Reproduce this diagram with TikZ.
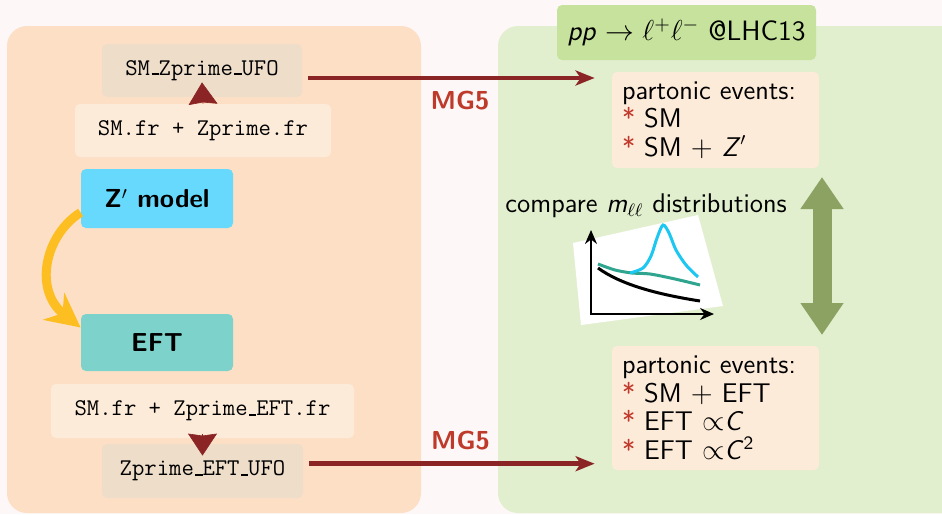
\documentclass[tikz,border=0pt]{standalone}
\usetikzlibrary{arrows.meta}
\definecolor{pagebg}{HTML}{FDF8F7}
\definecolor{leftpanel}{HTML}{FCDFC5}
\definecolor{rightpanel}{HTML}{E1EFCE}
\definecolor{titlebox}{HTML}{C6E29C}
\definecolor{ufobox}{HTML}{EDDDC9}
\definecolor{frbox}{HTML}{FDEBDA}
\definecolor{zbox}{HTML}{66D9FD}
\definecolor{eftbox}{HTML}{7DD3CB}
\definecolor{arrowred}{HTML}{8B2525}
\definecolor{mgred}{HTML}{BE3A2A}
\definecolor{starred}{HTML}{C0392B}
\definecolor{olive}{HTML}{8BA262}
\definecolor{yellowarr}{HTML}{FDBE22}
\definecolor{cyancurve}{HTML}{1CC7F2}
\definecolor{tealcurve}{HTML}{2FA58F}
\newcommand{\redstar}{\textcolor{starred}{*}~}
% short rule-style underscore for file names
\newcommand{\us}{\leavevmode\kern.06em\vbox{\hrule width.3em height 1pt}}
\begin{document}
\begin{tikzpicture}[x=0.5pt,y=-0.5pt,
  box/.style={rounded corners=2.5pt, inner sep=0pt, align=center},
  ttlabel/.style={font=\fontsize{12}{14}\selectfont\ttfamily},
  sflabel/.style={font=\fontsize{13.5}{14.3}\selectfont\sffamily},
  bflabel/.style={font=\fontsize{13}{14.3}\selectfont\sffamily\bfseries},
  evbox/.style={box, fill=frbox, minimum width=103.5pt, text width=93.5pt,
    align=left, sflabel},
  mgarrow/.style={arrowred, line width=2.4pt,
    -{Stealth[length=9.5pt,width=7.5pt,inset=2.5pt]}},
  tiparrow/.style={arrowred, line width=0.3pt,
    -{Stealth[length=11pt,width=14.5pt,inset=1pt]}},
  mglabel/.style={text=mgred, bflabel, inner sep=0pt},
  curve/.style={line width=1.5pt}
]
\clip (0,0) rectangle (942,514);
\fill[pagebg] (0,0) rectangle (942,514);

% panels
\fill[leftpanel, rounded corners=10pt] (7,26) rectangle (421,513);
\fill[rightpanel, rounded corners=10pt] (498,26) rectangle (990,513);

% model files
\node[box, fill=ufobox, minimum width=100pt, minimum height=26.5pt, ttlabel]
  (ufo1) at (202,70.5) {SM\us Zprime\us UFO};
\node[box, fill=frbox, minimum width=128pt, minimum height=26.5pt, ttlabel]
  (fr1) at (203,130.5) {SM.fr + Zprime.fr};
\node[box, fill=zbox, minimum width=76pt, minimum height=29.5pt, bflabel]
  (zmod) at (157,198.5) {Z$'$ model};
\node[box, fill=eftbox, minimum width=76pt, minimum height=28.5pt, bflabel]
  (eft) at (157,342.5) {EFT};
\node[box, fill=frbox, minimum width=151.5pt, minimum height=27pt, ttlabel]
  (fr2) at (202.5,411) {SM.fr + Zprime\us EFT.fr};
\node[box, fill=ufobox, minimum width=100.5pt, minimum height=27pt, ttlabel]
  (ufo2) at (202.5,471) {Zprime\us EFT\us UFO};

\draw[tiparrow] (fr1.north) -- ([yshift=7.5pt]ufo1.south);
\draw[tiparrow] ([yshift=2pt]fr2.south) -- ([yshift=-6pt]ufo2.north);

% model to EFT
\draw[yellowarr, line width=4.5pt,
  -{Stealth[length=17pt,width=17pt,inset=5.5pt]}]
  ([yshift=-7pt]zmod.west) .. controls (45,235) and (33,290)
  .. ([yshift=7.5pt]eft.west);

% right side
\node[box, fill=titlebox, minimum width=129.5pt, minimum height=27.5pt,
  font=\fontsize{14}{16}\selectfont\sffamily]
  (title) at (686.5,32.5) {\textit{pp} $\to \ell^+\ell^-$ @LHC13};
\node[evbox, minimum height=48pt] (pe1) at (715.5,120)
  {partonic events:\\ \redstar SM\\ \redstar SM $+$ \textit{Z}$'$};
\node[evbox, minimum height=62pt] (pe2) at (715.5,408)
  {partonic events:\\ \redstar SM $+$ EFT\\ \redstar EFT $\propto$\textit{C}\\
   \redstar EFT $\propto$\textit{C}\textsuperscript{2}};

% MadGraph arrows
\coordinate (a1s) at ([xshift=3pt,yshift=-3.75pt]ufo1.east);
\coordinate (a1e) at ([xshift=-8.5pt]pe1.west);
\draw[mgarrow] (a1s) -- (a1s -| a1e)
  node[mglabel, pos=0.53, yshift=-11.5pt] {MG5};
\coordinate (a2s) at ([xshift=3pt,yshift=3.65pt]ufo2.east);
\coordinate (a2e) at ([xshift=-8.5pt]pe2.west);
\draw[mgarrow] (a2s) -- (a2s -| a2e)
  node[mglabel, pos=0.53, yshift=11.5pt] {MG5};

% comparison
\coordinate (cmpa) at (822,177);
\coordinate (cmpb) at (822,335);
\draw[olive, line width=9.5pt,
  {Triangle[length=16pt,width=20.5pt]}-{Triangle[length=16pt,width=20.5pt]}]
  (cmpa) -- (cmpb);

\node[sflabel, anchor=base west, inner sep=0pt] (cmp) at (505,212)
  {compare \textit{m}$_{\ell\ell}$ distributions};

% sketch of the distributions
\fill[white] (573,243) -- (698,215) -- (723,306) -- (581,325) -- cycle;
\draw[curve, black] (598,268) .. controls (620,284) and (655,294) .. (700,301);
\draw[curve, tealcurve] plot[smooth] coordinates
  {(598,264) (615,270) (632,273) (650,274) (675,279) (700,285)};
\draw[curve, cyancurve] plot[smooth] coordinates
  {(630,273) (643,268) (651,256) (657,238) (663,225) (669,233) (676,250)
   (686,265) (698,277)};
\draw[line width=1pt, {Stealth[length=7pt,width=6pt]}-{Stealth[length=7pt,width=6pt]}]
  (591,230) -- (591,314) -- (714,314);
\end{tikzpicture}
\end{document}
